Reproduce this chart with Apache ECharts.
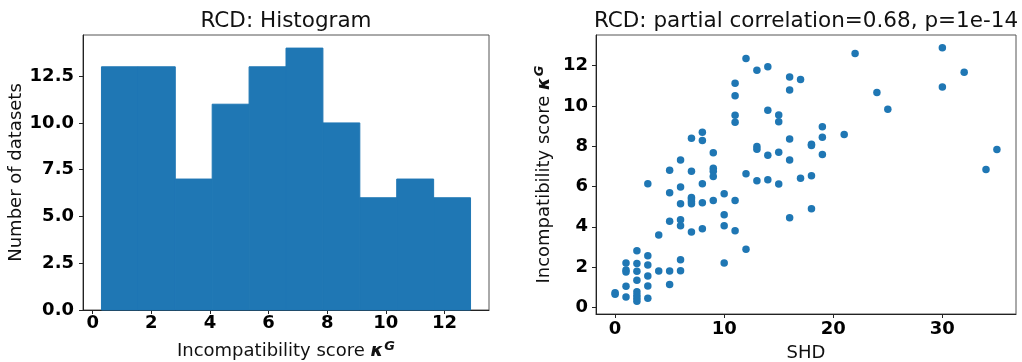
<!DOCTYPE html>
<html>
<head>
<meta charset="utf-8">
<script src="https://cdn.jsdelivr.net/npm/echarts@6/dist/echarts.min.js"></script>
<style>
html,body{margin:0;padding:0;background:#fff;}
#chart{width:1022px;height:362px;}
</style>
</head>
<body>
<div id="chart"></div>
<script>
// ---- Histogram data ----
const histBinEdges = [0.3, 1.559, 2.818, 4.077, 5.336, 6.595, 7.854, 9.113, 10.372, 11.631, 12.89];
const histCounts = [13, 13, 7, 11, 13, 14, 10, 6, 7, 6];
const histXTicks = [0, 2, 4, 6, 8, 10, 12];
const histYTicks = [0, 2.5, 5, 7.5, 10, 12.5];

// ---- Scatter data (SHD vs incompatibility score) ----
const shd = [
  0, 0,
  1, 1, 1, 1, 1,
  2, 2, 2, 2, 2, 2, 2, 2,
  3, 3, 3, 3, 3, 3,
  4, 4,
  5, 5, 5, 5, 5,
  6, 6, 6, 6, 6, 6, 6,
  7, 7, 7, 7, 7, 7, 7,
  8, 8, 8, 8, 8,
  9, 9, 9, 9, 9,
  10, 10, 10, 10,
  11, 11, 11, 11, 11, 11,
  12, 12, 12,
  13, 13, 13, 13,
  14, 14, 14, 14,
  15, 15, 15, 15,
  16, 16, 16, 16, 16,
  17, 17,
  18, 18, 18, 18,
  19, 19, 19,
  21, 22, 24, 25, 30, 30, 32, 34, 35
];
const kappa = [
  0.65, 0.72,
  2.2, 1.85, 1.75, 1.05, 0.52,
  2.81, 2.18, 1.79, 1.34, 0.78, 0.6, 0.45, 0.3,
  6.13, 2.56, 2.1, 1.56, 1.06, 0.45,
  3.59, 1.8,
  6.81, 5.69, 4.28, 1.8, 1.14,
  7.32, 5.97, 5.14, 4.35, 4.05, 2.36, 1.82,
  8.4, 6.76, 5.45, 5.38, 5.26, 5.14, 3.74,
  8.69, 8.28, 6.13, 5.19, 3.9,
  7.67, 6.91, 6.76, 6.5, 5.3,
  5.64, 4.6, 4.05, 2.2,
  11.12, 10.5, 9.54, 9.19, 5.31, 3.8,
  12.35, 6.63, 2.89,
  11.77, 7.98, 7.85, 6.28,
  11.95, 9.79, 7.55, 6.33,
  9.55, 9.21, 7.7, 6.12,
  11.44, 10.79, 8.36, 7.32, 4.45,
  11.31, 6.41,
  8.1, 8.03, 6.53, 4.89,
  8.96, 8.45, 7.59,
  8.58, 12.6, 10.66, 9.83, 12.89, 10.94, 11.67, 6.84, 7.83
];
const scatterXTicks = [0, 10, 20, 30];
const scatterYTicks = [0, 2, 4, 6, 8, 10, 12];

const titles = ['RCD: Histogram', 'RCD: partial correlation=0.68, p=1e-14'];

// ---- build ----
const FONT = 'DejaVu Sans';
const BLUE = '#1f77b4';
const histData = histCounts.map((c, i) => [histBinEdges[i], histBinEdges[i + 1], c]);
const scatterData = shd.map((s, i) => [s, kappa[i]]);

const kappaRich = {
  k: { fontFamily: FONT, fontSize: 18, fontWeight: 'bold', fontStyle: 'italic', color: '#111' },
  g: { fontFamily: FONT, fontSize: 13, fontWeight: 'bold', fontStyle: 'italic', color: '#111', padding: [0, 0, 10, 1] }
};

function valAxis(gridIndex, min, max, ticks, fmt, labelMargin, name, nameGap, nameRich) {
  return {
    type: 'value', gridIndex, min, max,
    splitLine: { show: false },
    axisLine: { show: true, onZero: false, lineStyle: { color: '#222', width: 1 } },
    axisTick: { show: true, length: 4, inside: false, customValues: ticks, lineStyle: { color: '#222', width: 1 } },
    axisLabel: {
      customValues: ticks, formatter: fmt, margin: labelMargin,
      fontFamily: FONT, fontSize: 18, fontWeight: 'bold', color: '#000'
    },
    name, nameLocation: 'middle', nameGap,
    nameTextStyle: { fontFamily: FONT, fontSize: 18, color: '#111', rich: nameRich }
  };
}

const chart = echarts.init(document.getElementById('chart'), null, { renderer: 'canvas' });
const option = {
  animation: false,
  backgroundColor: '#fff',
  grid: [
    { left: 83, top: 35, width: 406, height: 275, show: true, borderColor: '#555', borderWidth: 1, containLabel: false, outerBoundsMode: 'none' },
    { left: 596, top: 35, width: 420, height: 279, show: true, borderColor: '#555', borderWidth: 1, containLabel: false, outerBoundsMode: 'none' }
  ],
  xAxis: [
    valAxis(0, -0.33, 13.52, histXTicks, v => String(v), 4, 'Incompatibility score {k|κ}{g|G}', 30, kappaRich),
    valAxis(1, -1.75, 36.75, scatterXTicks, v => String(v), 6, 'SHD', 30, {})
  ],
  yAxis: [
    valAxis(0, 0, 14.7, histYTicks, v => v.toFixed(1), 9, 'Number of datasets', 57, {}),
    valAxis(1, -0.33, 13.52, scatterYTicks, v => String(v), 8, 'Incompatibility score {k|κ}{g|G}', 40, kappaRich)
  ],
  graphic: [
    { type: 'text', x: 286, y: 21, style: { text: titles[0], fontFamily: FONT, fontSize: 21.5, fill: '#111', align: 'center', verticalAlign: 'middle' } },
    { type: 'text', x: 806, y: 21, style: { text: titles[1], fontFamily: FONT, fontSize: 21.5, fill: '#111', align: 'center', verticalAlign: 'middle' } }
  ],
  series: [
    {
      type: 'custom', xAxisIndex: 0, yAxisIndex: 0,
      data: histData,
      encode: { x: [0, 1], y: 2 },
      renderItem: function (params, api) {
        const p0 = api.coord([api.value(0), 0]);
        const p1 = api.coord([api.value(1), api.value(2)]);
        return {
          type: 'rect',
          shape: { x: p0[0], y: p1[1], width: p1[0] - p0[0], height: p0[1] - p1[1] },
          style: { fill: BLUE, stroke: BLUE, lineWidth: 1 }
        };
      }
    },
    {
      type: 'scatter', xAxisIndex: 1, yAxisIndex: 1,
      data: scatterData, symbolSize: 7.5,
      itemStyle: { color: BLUE, opacity: 1 }
    }
  ]
};
chart.setOption(option);
</script>
</body>
</html>
